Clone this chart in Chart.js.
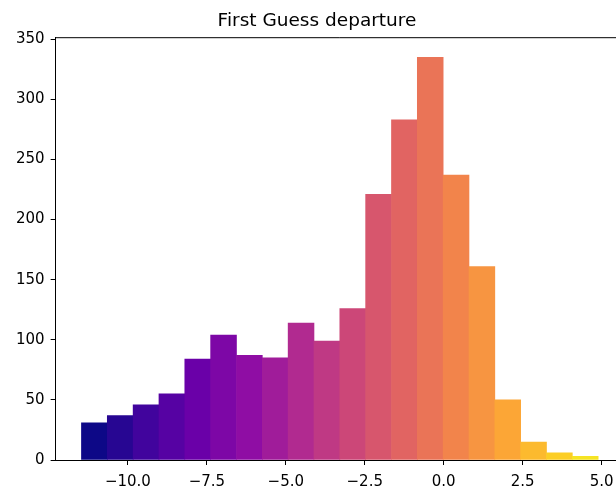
<!DOCTYPE html>
<html>
<head>
<meta charset="utf-8">
<script src="https://cdn.jsdelivr.net/npm/chart.js@4.4.1/dist/chart.umd.min.js"></script>
<style>
  html, body { margin: 0; padding: 0; overflow: hidden; background: #fff; }
  #wrap { width: 625px; height: 500px; }
</style>
</head>
<body>
<div id="wrap"><canvas id="hist"></canvas></div>
<script>
// histogram bins of the first guess departure
var binStart = -11.47;
var binWidth = 0.818;
var counts = [31, 37, 46, 55, 84, 104, 87, 85, 114, 99, 126, 221, 283, 335, 237, 161, 50, 15, 6, 3];
var xTicks = [-10, -7.5, -5, -2.5, 0, 2.5, 5];
var yTicks = [0, 50, 100, 150, 200, 250, 300, 350];

// plasma colormap stops
var plasma = ['#0d0887', '#41049d', '#6a00a8', '#8f0da4', '#b12a90', '#cc4778',
              '#e16462', '#f2844b', '#fca636', '#fcce25', '#f0f921'];

function hexRgb(h) {
  return [parseInt(h.substr(1, 2), 16), parseInt(h.substr(3, 2), 16), parseInt(h.substr(5, 2), 16)];
}
function plasmaAt(t) {
  var p = t * (plasma.length - 1);
  var i = Math.min(Math.floor(p), plasma.length - 2);
  var f = p - i;
  var a = hexRgb(plasma[i]), b = hexRgb(plasma[i + 1]);
  var c = a.map(function (v, k) { return Math.round(v + (b[k] - v) * f); });
  return 'rgb(' + c.join(',') + ')';
}

var points = counts.map(function (c, i) {
  return { x: binStart + binWidth * (i + 0.5), y: c };
});
var colors = counts.map(function (c, i) { return plasmaAt(i / counts.length); });

function minus(v) {
  return String(v).replace('-', '\u2212');
}

// spines: left/bottom come from the axes, top drawn here
var frame = {
  id: 'frame',
  afterDraw: function (chart) {
    var a = chart.chartArea, ctx = chart.ctx;
    ctx.save();
    ctx.strokeStyle = '#000';
    ctx.lineWidth = 1;
    ctx.beginPath();
    ctx.moveTo(a.left, a.top + 0.5);
    ctx.lineTo(a.right, a.top + 0.5);
    ctx.stroke();
    ctx.restore();
  }
};

Chart.defaults.font.family = 'DejaVu Sans';
Chart.defaults.color = '#000';

var ctx = document.getElementById('hist');
new Chart(ctx, {
  type: 'bar',
  data: {
    datasets: [{
      data: points,
      backgroundColor: colors,
      borderWidth: 0,
      barPercentage: 1,
      categoryPercentage: 1
    }]
  },
  options: {
    responsive: true,
    maintainAspectRatio: false,
    animation: false,
    layout: { padding: { left: 10, right: 1, top: 0, bottom: 1 } },
    scales: {
      x: {
        type: 'linear',
        offset: false,
        min: binStart - binWidth,
        max: binStart + binWidth * (counts.length + 1),
        afterBuildTicks: function (s) { s.ticks = xTicks.map(function (v) { return { value: v }; }); },
        ticks: {
          font: { size: 15 },
          padding: 8,
          maxRotation: 0,
          callback: function (v) { return minus(v.toFixed(1)); }
        },
        grid: { drawOnChartArea: false, offset: false, tickLength: 5, tickColor: '#000' },
        border: { color: '#000', width: 1 }
      },
      y: {
        min: 0,
        max: 335 * 1.05,
        afterBuildTicks: function (s) { s.ticks = yTicks.map(function (v) { return { value: v }; }); },
        ticks: { font: { size: 15 }, padding: 6 },
        grid: { drawOnChartArea: false, tickLength: 5, tickColor: '#000' },
        border: { color: '#000', width: 1 }
      }
    },
    plugins: {
      legend: { display: false },
      tooltip: { enabled: false },
      title: {
        display: true,
        text: 'First Guess departure',
        color: '#000',
        font: { size: 18.5, weight: 'normal' },
        padding: { top: 10, bottom: 5 }
      }
    }
  },
  plugins: [frame]
});
</script>
</body>
</html>
